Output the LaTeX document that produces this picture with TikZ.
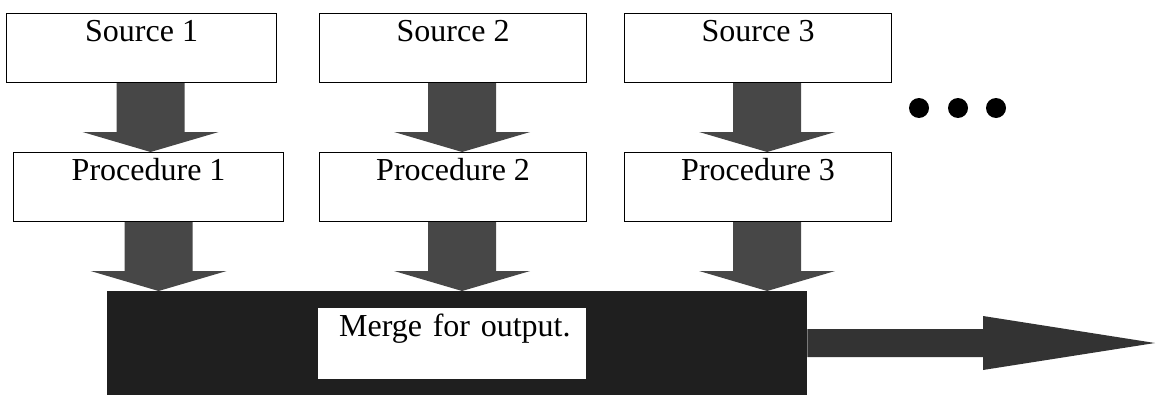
\documentclass[tikz,border=0pt]{standalone}
\usepackage{fontspec}
\setmainfont{Liberation Serif}
\usetikzlibrary{calc}
\tikzset{
  procbox/.style={draw=black, line width=1.2pt, fill=white, rectangle, anchor=north west,
    minimum width=270pt, inner xsep=0pt, inner ysep=0pt, text height=28pt, text depth=41pt,
    font=\fontsize{32}{37}\selectfont},
  arrowfill/.style={fill=black!72},
  mergebox/.style={rectangle, fill=black!88, anchor=north west, minimum width=700pt,
    minimum height=104pt, inner sep=0pt},
  mergetext/.style={rectangle, fill=white, anchor=north west, text width=226pt, inner xsep=21pt,
    inner ysep=0pt, text height=28pt, text depth=43pt, align=left, font=\fontsize{32}{37}\selectfont},
  dot/.style={circle, fill=black, minimum size=20pt, inner sep=0pt}
}
\newcommand{\blockarr}[3]{%
  \fill[arrowfill] let \p1=($(#1.south)+(#3,0)$), \p2=(#2.north) in
    (\x1-34pt,\y1) -- (\x1+34pt,\y1) -- (\x1+34pt,\y2+20pt) -- (\x1+68pt,\y2+20pt)
    -- (\x1,\y2) -- (\x1-68pt,\y2+20pt) -- (\x1-34pt,\y2+20pt) -- cycle;}
\begin{document}
\begin{tikzpicture}[x=1pt, y=-1pt]
\useasboundingbox (0,0) rectangle (1157,396);
% merge box first (arrows overlap its top)
\node[mergebox] (merge) at (107,291) {};
\node[mergetext] (mtext) at (318,308) {\mbox{Merge for output.}};
% sources
\node[procbox] (s1) at (6,13) {Source 1};
\node[procbox, minimum width=267pt] (s2) at (319,13) {Source 2};
\node[procbox, minimum width=267pt] (s3) at (624,13) {Source 3};
% procedures
\node[procbox] (p1) at (13,152) {Procedure 1};
\node[procbox, minimum width=267pt] (p2) at (319,152) {Procedure 2};
\node[procbox, minimum width=267pt] (p3) at (624,152) {Procedure 3};
% arrows
\blockarr{s1}{p1}{9}
\blockarr{s2}{p2}{9}
\blockarr{s3}{p3}{9}
\blockarr{p1}{merge}{10}
\blockarr{p2}{merge}{9}
\blockarr{p3}{merge}{9}
% output arrow
\coordinate (outtip) at (1155,343);
\fill[fill=black!80] let \p1=(merge.east), \p2=(outtip) in
  (\x1,\y1+14pt) -- (\x2-172pt,\y2+14pt) -- (\x2-172pt,\y2+27pt) -- (\x2,\y2)
  -- (\x2-172pt,\y2-27pt) -- (\x2-172pt,\y2-14pt) -- (\x1,\y1-14pt) -- cycle;
% dots
\node[dot] (d1) at (919,108) {};
\node[dot] (d2) at (958,108) {};
\node[dot] (d3) at (996,108) {};
\end{tikzpicture}
\end{document}
